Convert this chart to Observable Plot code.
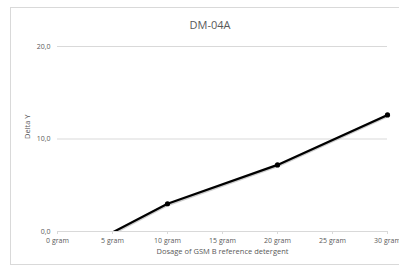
<!DOCTYPE html>
<html>
<head>
<meta charset="utf-8">
<script src="https://cdn.jsdelivr.net/npm/d3@7"></script>
<script src="https://cdn.jsdelivr.net/npm/@observablehq/plot@0.6"></script>
<style>
  html, body { margin: 0; padding: 0; background: #fff; }
  #wrap { position: relative; width: 399px; height: 267px; overflow: hidden; font-family: "Open Sans", "Liberation Sans", sans-serif; }
  #frame { position: absolute; left: 10px; top: 7px; width: 400px; height: 258px; border: 1px solid #d9d9d9; box-sizing: border-box; }
  #title { position: absolute; left: 10px; width: 400px; top: 17px; text-align: center; font-size: 11px; color: #595959; }
  #chart { position: absolute; left: 0; top: 36px; }
</style>
</head>
<body>
<div id="wrap">
  <div id="frame"></div>
  <div id="title">DM-04A</div>
  <div id="chart"></div>
</div>
<script>
const doses = [5, 10, 20, 30];
const deltaY = [-0.1, 3.0, 7.2, 12.6];
const xTicks = [0, 5, 10, 15, 20, 25, 30];
const yTicks = [0, 10, 20];
const xTitle = "Dosage of GSM B reference detergent";
const yTitle = "Delta Y";

const data = doses.map((d, i) => ({dose: d, value: deltaY[i]}));
const shown = data.filter(d => d.value >= 0);

const plot = Plot.plot({
  width: 399,
  height: 231,
  marginLeft: 57,
  marginRight: 12,
  marginTop: 10,
  marginBottom: 36,
  style: {fontFamily: "'Open Sans', 'Liberation Sans', sans-serif", fontSize: "7px", color: "#595959", background: "transparent"},
  x: {domain: [0, 30]},
  y: {domain: [0, 20]},
  marks: [
    Plot.gridY(yTicks, {stroke: "#d9d9d9", strokeOpacity: 1}),
    Plot.axisX(xTicks, {tickFormat: d => d + " gram", tickSize: 3, tickPadding: 4, stroke: "#d9d9d9", fill: "#595959", label: null}),
    Plot.axisY(yTicks, {tickFormat: d => d.toFixed(1).replace(".", ","), tickSize: 0, tickPadding: 7, fill: "#595959", label: null}),
    Plot.line(data, {x: "dose", y: "value", stroke: "#aaaaaa", strokeWidth: 2, dx: 0.8, dy: 1.2, strokeOpacity: 0.6, clip: true}),
    Plot.line(data, {x: "dose", y: "value", stroke: "#000", strokeWidth: 2.2, clip: true}),
    Plot.dot(shown, {x: "dose", y: "value", r: 2.6, fill: "#000", stroke: "none"}),
    Plot.text([xTitle], {frameAnchor: "bottom", dy: 22, fill: "#595959", fontSize: 7.5}),
    Plot.text([yTitle], {frameAnchor: "left", dx: -30, rotate: -90, fill: "#595959", fontSize: 7.5})
  ]
});
document.getElementById("chart").appendChild(plot);
</script>
</body>
</html>
